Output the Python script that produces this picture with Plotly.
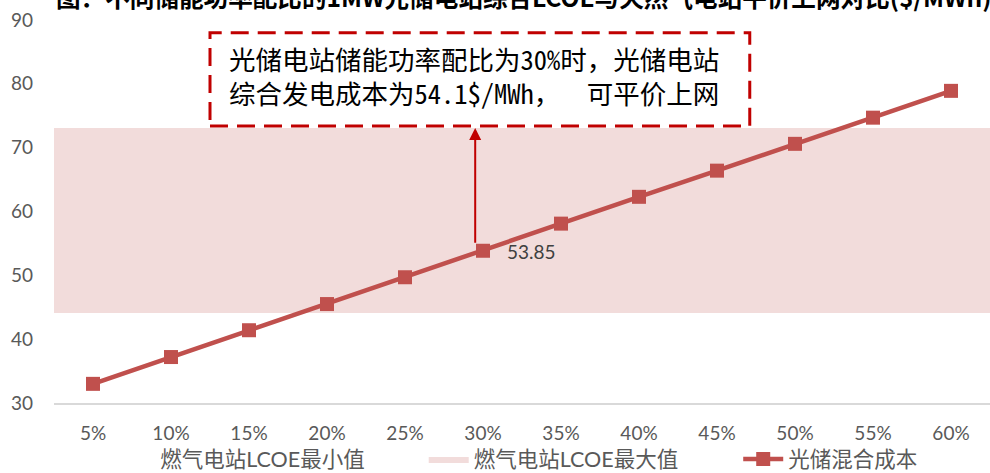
import plotly.graph_objects as go

# Storage power ratio (categories) and blended PV+storage cost ($/MWh)
ratios = ["5%", "10%", "15%", "20%", "25%", "30%", "35%", "40%", "45%", "50%", "55%", "60%"]
pv_storage_cost = [33.0, 37.2, 41.4, 45.5, 49.7, 53.85, 58.1, 62.3, 66.4, 70.6, 74.7, 78.9]

# Gas plant LCOE range ($/MWh)
gas_lcoe_min = 44.1
gas_lcoe_max = 73.1

y_ticks = [30, 40, 50, 60, 70, 80, 90]

highlight_idx = ratios.index("30%")

LINE_RED = "#C0504D"
DARK_RED = "#C00000"
BAND_PINK = "#F2DCDB"
GREY_TXT = "#595959"
FONT = "Lato, 'Noto Sans CJK SC', sans-serif"
CJK = "'Noto Sans CJK SC', sans-serif"
CJK_MONO = "'Noto Sans Mono CJK SC', 'Noto Sans CJK SC', monospace"

x_idx = list(range(len(ratios)))
x_edges = [-0.5, len(ratios) - 0.5]

fig = go.Figure()

# lower bound of the gas LCOE band (no fill, legend text only)
fig.add_trace(go.Scatter(
    x=x_edges, y=[gas_lcoe_min] * 2, mode="lines",
    line=dict(width=0, color="rgba(0,0,0,0)"),
    name="燃气电站LCOE最小值", hoverinfo="skip", legend="legend",
))
# upper bound, filled down to the lower bound
fig.add_trace(go.Scatter(
    x=x_edges, y=[gas_lcoe_max] * 2, mode="lines",
    line=dict(width=0, color=BAND_PINK),
    fill="tonexty", fillcolor=BAND_PINK,
    name="燃气电站LCOE最大值", hoverinfo="skip", legend="legend2",
))
# blended PV + storage cost
fig.add_trace(go.Scatter(
    x=x_idx, y=pv_storage_cost, mode="lines+markers",
    line=dict(color=LINE_RED, width=4.5),
    marker=dict(symbol="square", size=14, color=LINE_RED),
    name="光储混合成本", legend="legend3",
))

# value label of the highlighted point
fig.add_annotation(
    x=highlight_idx, y=pv_storage_cost[highlight_idx],
    text=f"{pv_storage_cost[highlight_idx]:.2f}", showarrow=False,
    xanchor="left", yanchor="middle", xshift=22, yshift=-1,
    font=dict(family=FONT, size=19, color="#404040"),
)

# dashed callout box
box_x0, box_x1 = 1.5, 8.42
box_y0, box_y1 = 73.4, 88.0
fig.add_shape(
    type="rect", xref="x", yref="y",
    x0=box_x0, x1=box_x1, y0=box_y0, y1=box_y1,
    line=dict(color=DARK_RED, width=3, dash="18px,9px"),
    fillcolor="rgba(0,0,0,0)", layer="above",
)
nb = "\u00a0"
fig.add_annotation(
    x=box_x0, y=(box_y0 + box_y1) / 2, xref="x", yref="y",
    text=("光储电站储能功率配比为30%时，光储电站<br>"
          f"综合发电成本为54.1$/MWh，{nb * 2}可平价上网"),
    showarrow=False, xanchor="left", yanchor="middle", align="left",
    xshift=17, yshift=4,
    font=dict(family=CJK_MONO, size=26.5, color="#000000"),
)
# arrow from the highlighted point up to the callout
fig.add_annotation(
    x=highlight_idx - 0.1, y=box_y0 - 0.3,
    ax=highlight_idx - 0.1, ay=pv_storage_cost[highlight_idx] + 1.0,
    xref="x", yref="y", axref="x", ayref="y",
    text="", showarrow=True, arrowhead=2, arrowsize=1.2, arrowwidth=2,
    arrowcolor=DARK_RED,
)

# heading at the top edge
fig.add_annotation(
    x=0.0, y=1.062, xref="paper", yref="paper",
    text="<b>图：不同储能功率配比的1MW光储电站综合LCOE与天然气电站平价上网对比($/MWh)</b>",
    showarrow=False, xanchor="left", yanchor="middle",
    font=dict(family=CJK, size=24.6, color="#000000"),
)

legend_style = dict(
    orientation="h", xanchor="left", y=-0.146, yanchor="middle",
    font=dict(family=FONT, size=21.5, color=GREY_TXT),
    bgcolor="rgba(0,0,0,0)", itemwidth=40,
)

fig.update_layout(
    width=990, height=473,
    margin=dict(l=54, r=0, t=20, b=70, autoexpand=False),
    paper_bgcolor="white", plot_bgcolor="white",
    showlegend=True,
    legend=dict(x=0.06, **legend_style),
    legend2=dict(x=0.395, **legend_style),
    legend3=dict(x=0.731, **legend_style),
    xaxis=dict(
        range=x_edges, tickmode="array", tickvals=x_idx, ticktext=ratios,
        showgrid=False, zeroline=False,
        showline=True, linecolor="#D9D9D9", linewidth=2,
        ticks="", ticklabelstandoff=12,
        tickfont=dict(family=FONT, size=19, color=GREY_TXT),
        fixedrange=True,
    ),
    yaxis=dict(
        range=[30, 90], tickmode="array", tickvals=y_ticks,
        showgrid=False, zeroline=False, showline=False,
        ticks="", ticklabelstandoff=20,
        tickfont=dict(family=FONT, size=19, color=GREY_TXT),
        fixedrange=True,
    ),
)

fig.write_html("out.html")
